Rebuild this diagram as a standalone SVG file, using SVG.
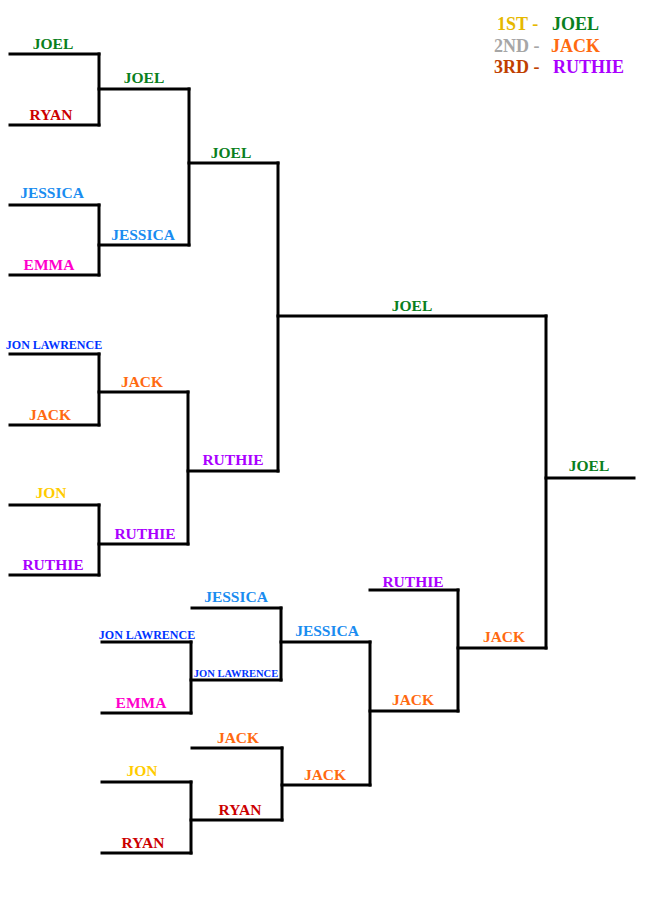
<svg xmlns="http://www.w3.org/2000/svg" width="650" height="900" viewBox="0 0 650 900">
<style>
.ln{stroke:#000;stroke-width:3;fill:none;stroke-linecap:square}
text{font-family:"Liberation Serif","Times New Roman",serif;font-weight:bold;font-size:15.5px;text-anchor:middle}
.sm{font-size:12px}
.xs{font-size:10.5px}
.lg{font-size:18px;text-anchor:start}
.joel{fill:#0a8020}.ryan{fill:#cc0000}.jessica{fill:#1a8cf0}.emma{fill:#ff00cc}
.jonl{fill:#0033ff}.jack{fill:#ff6a10}.jon{fill:#ffcc00}.ruthie{fill:#aa00ff}
</style>
<rect width="650" height="900" fill="#fff"/>
<g id="legend">
<text class="lg" x="497" y="30" fill="#e6b800">1ST -</text><text class="lg joel" x="552" y="30">JOEL</text>
<text class="lg" x="494" y="52" fill="#a6a6a6">2ND -</text><text class="lg jack" x="551" y="52">JACK</text>
<text class="lg" x="494" y="73" fill="#c04000">3RD -</text><text class="lg ruthie" x="553" y="73">RUTHIE</text>
</g>
<g id="connectors">
<path class="ln" d="M99 54V125M99 205V275M99 354V425M99 505V575M189 89V245M188 392V544M278 163V471M546 316V648M191 642V713M281 608V680M191 782V853M282 748V820M370 642V785M458 590V711"/>
</g>
<g id="w1-joel"><path class="ln" d="M10 54H99"/><text class="joel" x="53" y="49">JOEL</text></g>
<g id="w1-ryan"><path class="ln" d="M10 125H99"/><text class="ryan" x="51" y="120">RYAN</text></g>
<g id="w1-jessica"><path class="ln" d="M10 205H99"/><text class="jessica" x="52" y="198">JESSICA</text></g>
<g id="w1-emma"><path class="ln" d="M10 275H99"/><text class="emma" x="49" y="270">EMMA</text></g>
<g id="w1-jonl"><path class="ln" d="M10 354H99"/><text class="jonl sm" x="54" y="349">JON LAWRENCE</text></g>
<g id="w1-jack"><path class="ln" d="M10 425H99"/><text class="jack" x="50" y="420">JACK</text></g>
<g id="w1-jon"><path class="ln" d="M10 505H99"/><text class="jon" x="51" y="498">JON</text></g>
<g id="w1-ruthie"><path class="ln" d="M10 575H99"/><text class="ruthie" x="53" y="570">RUTHIE</text></g>
<g id="w2-joel"><path class="ln" d="M99 89H189"/><text class="joel" x="144" y="83">JOEL</text></g>
<g id="w2-jessica"><path class="ln" d="M99 245H189"/><text class="jessica" x="143" y="240">JESSICA</text></g>
<g id="w2-jack"><path class="ln" d="M99 392H188"/><text class="jack" x="142" y="387">JACK</text></g>
<g id="w2-ruthie"><path class="ln" d="M99 544H188"/><text class="ruthie" x="145" y="539">RUTHIE</text></g>
<g id="w3-joel"><path class="ln" d="M189 163H278"/><text class="joel" x="231" y="158">JOEL</text></g>
<g id="w3-ruthie"><path class="ln" d="M188 471H278"/><text class="ruthie" x="233" y="465">RUTHIE</text></g>
<g id="w4-joel"><path class="ln" d="M278 316H546"/><text class="joel" x="412" y="311">JOEL</text></g>
<g id="final-joel"><path class="ln" d="M546 478H634"/><text class="joel" x="589" y="471">JOEL</text></g>
<g id="l1-jessica"><path class="ln" d="M192 608H281"/><text class="jessica" x="236" y="602">JESSICA</text></g>
<g id="l1-jonl"><path class="ln" d="M102 642H191"/><text class="jonl sm" x="147" y="639">JON LAWRENCE</text></g>
<g id="l1-emma"><path class="ln" d="M102 713H191"/><text class="emma" x="141" y="708">EMMA</text></g>
<g id="l2-jonl"><path class="ln" d="M191 680H281"/><text class="jonl xs" x="236" y="677">JON LAWRENCE</text></g>
<g id="l3-jessica"><path class="ln" d="M281 642H370"/><text class="jessica" x="327" y="636">JESSICA</text></g>
<g id="l1-jack"><path class="ln" d="M192 748H282"/><text class="jack" x="238" y="743">JACK</text></g>
<g id="l1-jon"><path class="ln" d="M102 782H191"/><text class="jon" x="142" y="776">JON</text></g>
<g id="l1-ryan"><path class="ln" d="M102 853H191"/><text class="ryan" x="143" y="848">RYAN</text></g>
<g id="l2-ryan"><path class="ln" d="M191 820H282"/><text class="ryan" x="240" y="815">RYAN</text></g>
<g id="l3-jack"><path class="ln" d="M282 785H370"/><text class="jack" x="325" y="780">JACK</text></g>
<g id="l4-ruthie"><path class="ln" d="M370 590H458"/><text class="ruthie" x="413" y="587">RUTHIE</text></g>
<g id="l4-jack"><path class="ln" d="M370 711H458"/><text class="jack" x="413" y="705">JACK</text></g>
<g id="l5-jack"><path class="ln" d="M458 648H546"/><text class="jack" x="504" y="642">JACK</text></g>
</svg>
